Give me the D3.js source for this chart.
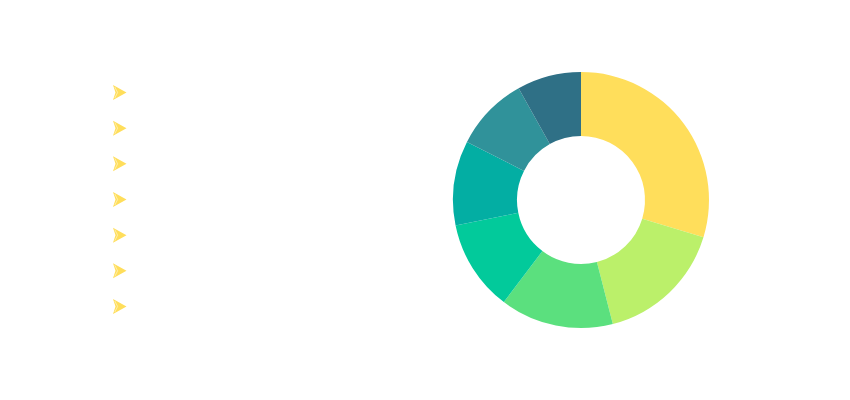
<!DOCTYPE html>
<html>
<head>
<meta charset="utf-8">
<script src="https://cdn.jsdelivr.net/npm/d3@7"></script>
<style>
  html, body { margin: 0; padding: 0; background: #fff; }
  svg { display: block; }
</style>
</head>
<body>
<svg width="850" height="400"></svg>
<script>
// slice values (clockwise from 12 o'clock)
const values = [297, 163, 143, 115, 107, 94, 81];
const colors = ["#ffde5b", "#bbf06a", "#5be07e", "#02ca9b", "#03aea3", "#30929a", "#2f7086"];
const legendColor = "#ffde5b";

const svg = d3.select("svg");
const cx = 581, cy = 200;
const outerR = 128, innerR = 64;

const pie = d3.pie().sort(null).value(d => d);
const arc = d3.arc().innerRadius(innerR).outerRadius(outerR);

const chart = svg.append("g").attr("transform", `translate(${cx},${cy})`);

chart.selectAll("path")
  .data(pie(values))
  .join("path")
  .attr("d", arc)
  .attr("fill", (d, i) => colors[i]);

// legend: arrow icons only, one per slice
const y = d3.scalePoint()
  .domain(d3.range(values.length))
  .range([92.5, 306.5]);

const legend = svg.append("g");
const item = legend.selectAll("g")
  .data(values)
  .join("g")
  .attr("transform", (d, i) => `translate(113,${y(i)})`);

item.append("path")
  .attr("d", "M0,-7.5 L13.5,0 L0,7.5 L2.5,0 Z")
  .attr("fill", legendColor);

item.append("path")
  .attr("d", "M1.8,-5.5 L4.6,0 L1.8,5.5")
  .attr("fill", "none")
  .attr("stroke", "#fff")
  .attr("stroke-opacity", 0.6)
  .attr("stroke-width", 0.8);
</script>
</body>
</html>
